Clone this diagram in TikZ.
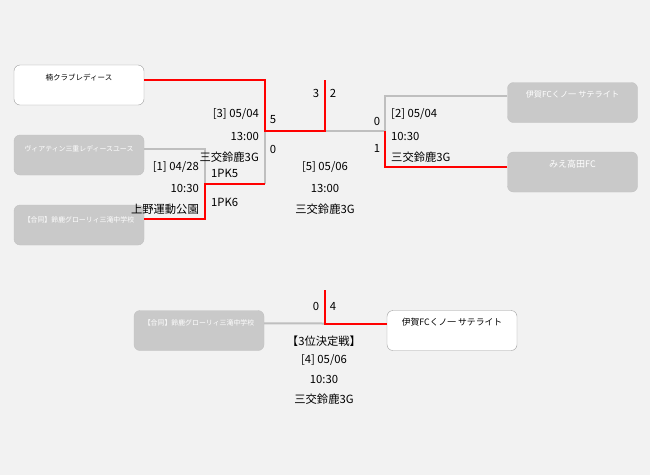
\documentclass[tikz,border=0pt]{standalone}
\usepackage{fontspec}
\setmainfont{Noto Sans CJK JP}
\begin{document}
\begin{tikzpicture}[x=1pt,y=-1pt,
  team/.style={rounded corners=6pt,minimum width=130pt,minimum height=40pt,inner sep=0pt},
  lost/.style={team,draw=black!24,fill=black!21},
  won/.style={team,draw=black!38,fill=white},
  lostname/.style={font=\fontsize{6.9}{8}\selectfont,text=white},
  wonname/.style={font=\fontsize{7.5}{8}\selectfont,text=black},
  info/.style={font=\fontsize{11.3}{12}\selectfont,inner sep=0pt},
  grayline/.style={draw=black!25,line width=2pt},
  redline/.style={draw=red,line width=2pt}]
\fill[black!5] (0,0) rectangle (650,475);
\useasboundingbox (0,0) rectangle (650,475);
% boxes
\node[won]  (b1) at (79,85) {};
\node[lost] (b2) at (79,155) {};
\node[lost] (b3) at (79,225) {};
\node[lost] (r1) at (572.5,102.5) {};
\node[lost] (r2) at (572.5,172) {};
\node[lost] (t1) at (199,330.5) {};
\node[won]  (t2) at (452,330.5) {};
\node[wonname]  (n1) at ([yshift=-13pt]b1.north) {楠クラブレディース};
\node[lostname] (n2) at ([yshift=-14pt]b2.north) {ヴィアティン三重レディースユース};
\node[lostname] (n3) at ([yshift=-15pt]b3.north) {【合同】鈴鹿グローリィ三滝中学校};
\node[lostname,font=\fontsize{8.2}{9}\selectfont] (n4) at ([yshift=-12pt]r1.north) {伊賀FCくノ一 サテライト};
\node[lostname,font=\fontsize{9}{10}\selectfont] (n5) at ([yshift=-12pt]r2.north) {みえ高田FC};
\node[lostname] (n6) at ([yshift=-13pt]t1.north) {【合同】鈴鹿グローリィ三滝中学校};
\node[wonname,font=\fontsize{8.8}{10}\selectfont]  (n7) at ([yshift=-12pt]t2.north) {伊賀FCくノ一 サテライト};
% junctions
\coordinate (m1) at (205,184);
\coordinate (m3) at (265,131);
\coordinate (m2) at (385,131);
\coordinate (fin) at (325,131);
\coordinate (top) at (325,80);
\coordinate (tp) at (325,323.5);
\coordinate (tptop) at (325,290);
% gray lines
\draw[grayline] ([yshift=-14pt]b2.north east) -| (m1);
\draw[grayline] (m3) -- (m1 -| m3);
\draw[grayline] ([yshift=-14pt]r1.north west) -| (m2);
\draw[grayline] (m2) -- (fin);
\draw[grayline] ([yshift=-13pt]t1.north east) -- (tp);
% red lines
\draw[redline] ([yshift=-14pt]b3.north east) -| (m1) -- (m1 -| m3);
\draw[redline] ([yshift=-15pt]b1.north east) -| (m3) -- (fin) -- (top);
\draw[redline] ([yshift=-15pt]r2.north west) -| (m2);
\draw[redline] (tptop) -- (tp) -- (tp -| t2.west);
% scores
\node[info] (s1) at (316,93) {3};
\node[info] (s2) at (333,93) {2};
\node[info] (s3) at (273,120) {5};
\node[info] (s4) at (273,149) {0};
\node[info] (s5) at (377,121) {0};
\node[info] (s6) at (377,148) {1};
\node[info,anchor=west] (pk1) at (211,173) {1PK5};
\node[info,anchor=west] (pk2) at (211,202) {1PK6};
\node[info] (s7) at (316,306) {0};
\node[info] (s8) at (333,306) {4};
% match info
\node[info,anchor=east] (a1) at (259,114) {[3] 05/04};
\node[info,anchor=east] (a2) at (259,136) {13:00};
\node[info,anchor=east] (a3) at (259,157) {三交鈴鹿3G};
\node[info,anchor=east] (c1) at (199,167) {[1] 04/28};
\node[info,anchor=east] (c2) at (199,188) {10:30};
\node[info,anchor=east] (c3) at (199,209) {上野運動公園};
\node[info,anchor=west] (d1) at (391,114) {[2] 05/04};
\node[info,anchor=west] (d2) at (391,136) {10:30};
\node[info,anchor=west] (d3) at (391,157) {三交鈴鹿3G};
\node[info] (e1) at (325,167) {[5] 05/06};
\node[info] (e2) at (325,188) {13:00};
\node[info] (e3) at (325,209) {三交鈴鹿3G};
\node[info] (f0) at (324,341) {【3位決定戦】};
\node[info] (f1) at (324,360) {[4] 05/06};
\node[info] (f2) at (324,379) {10:30};
\node[info] (f3) at (324,399) {三交鈴鹿3G};
\end{tikzpicture}
\end{document}
